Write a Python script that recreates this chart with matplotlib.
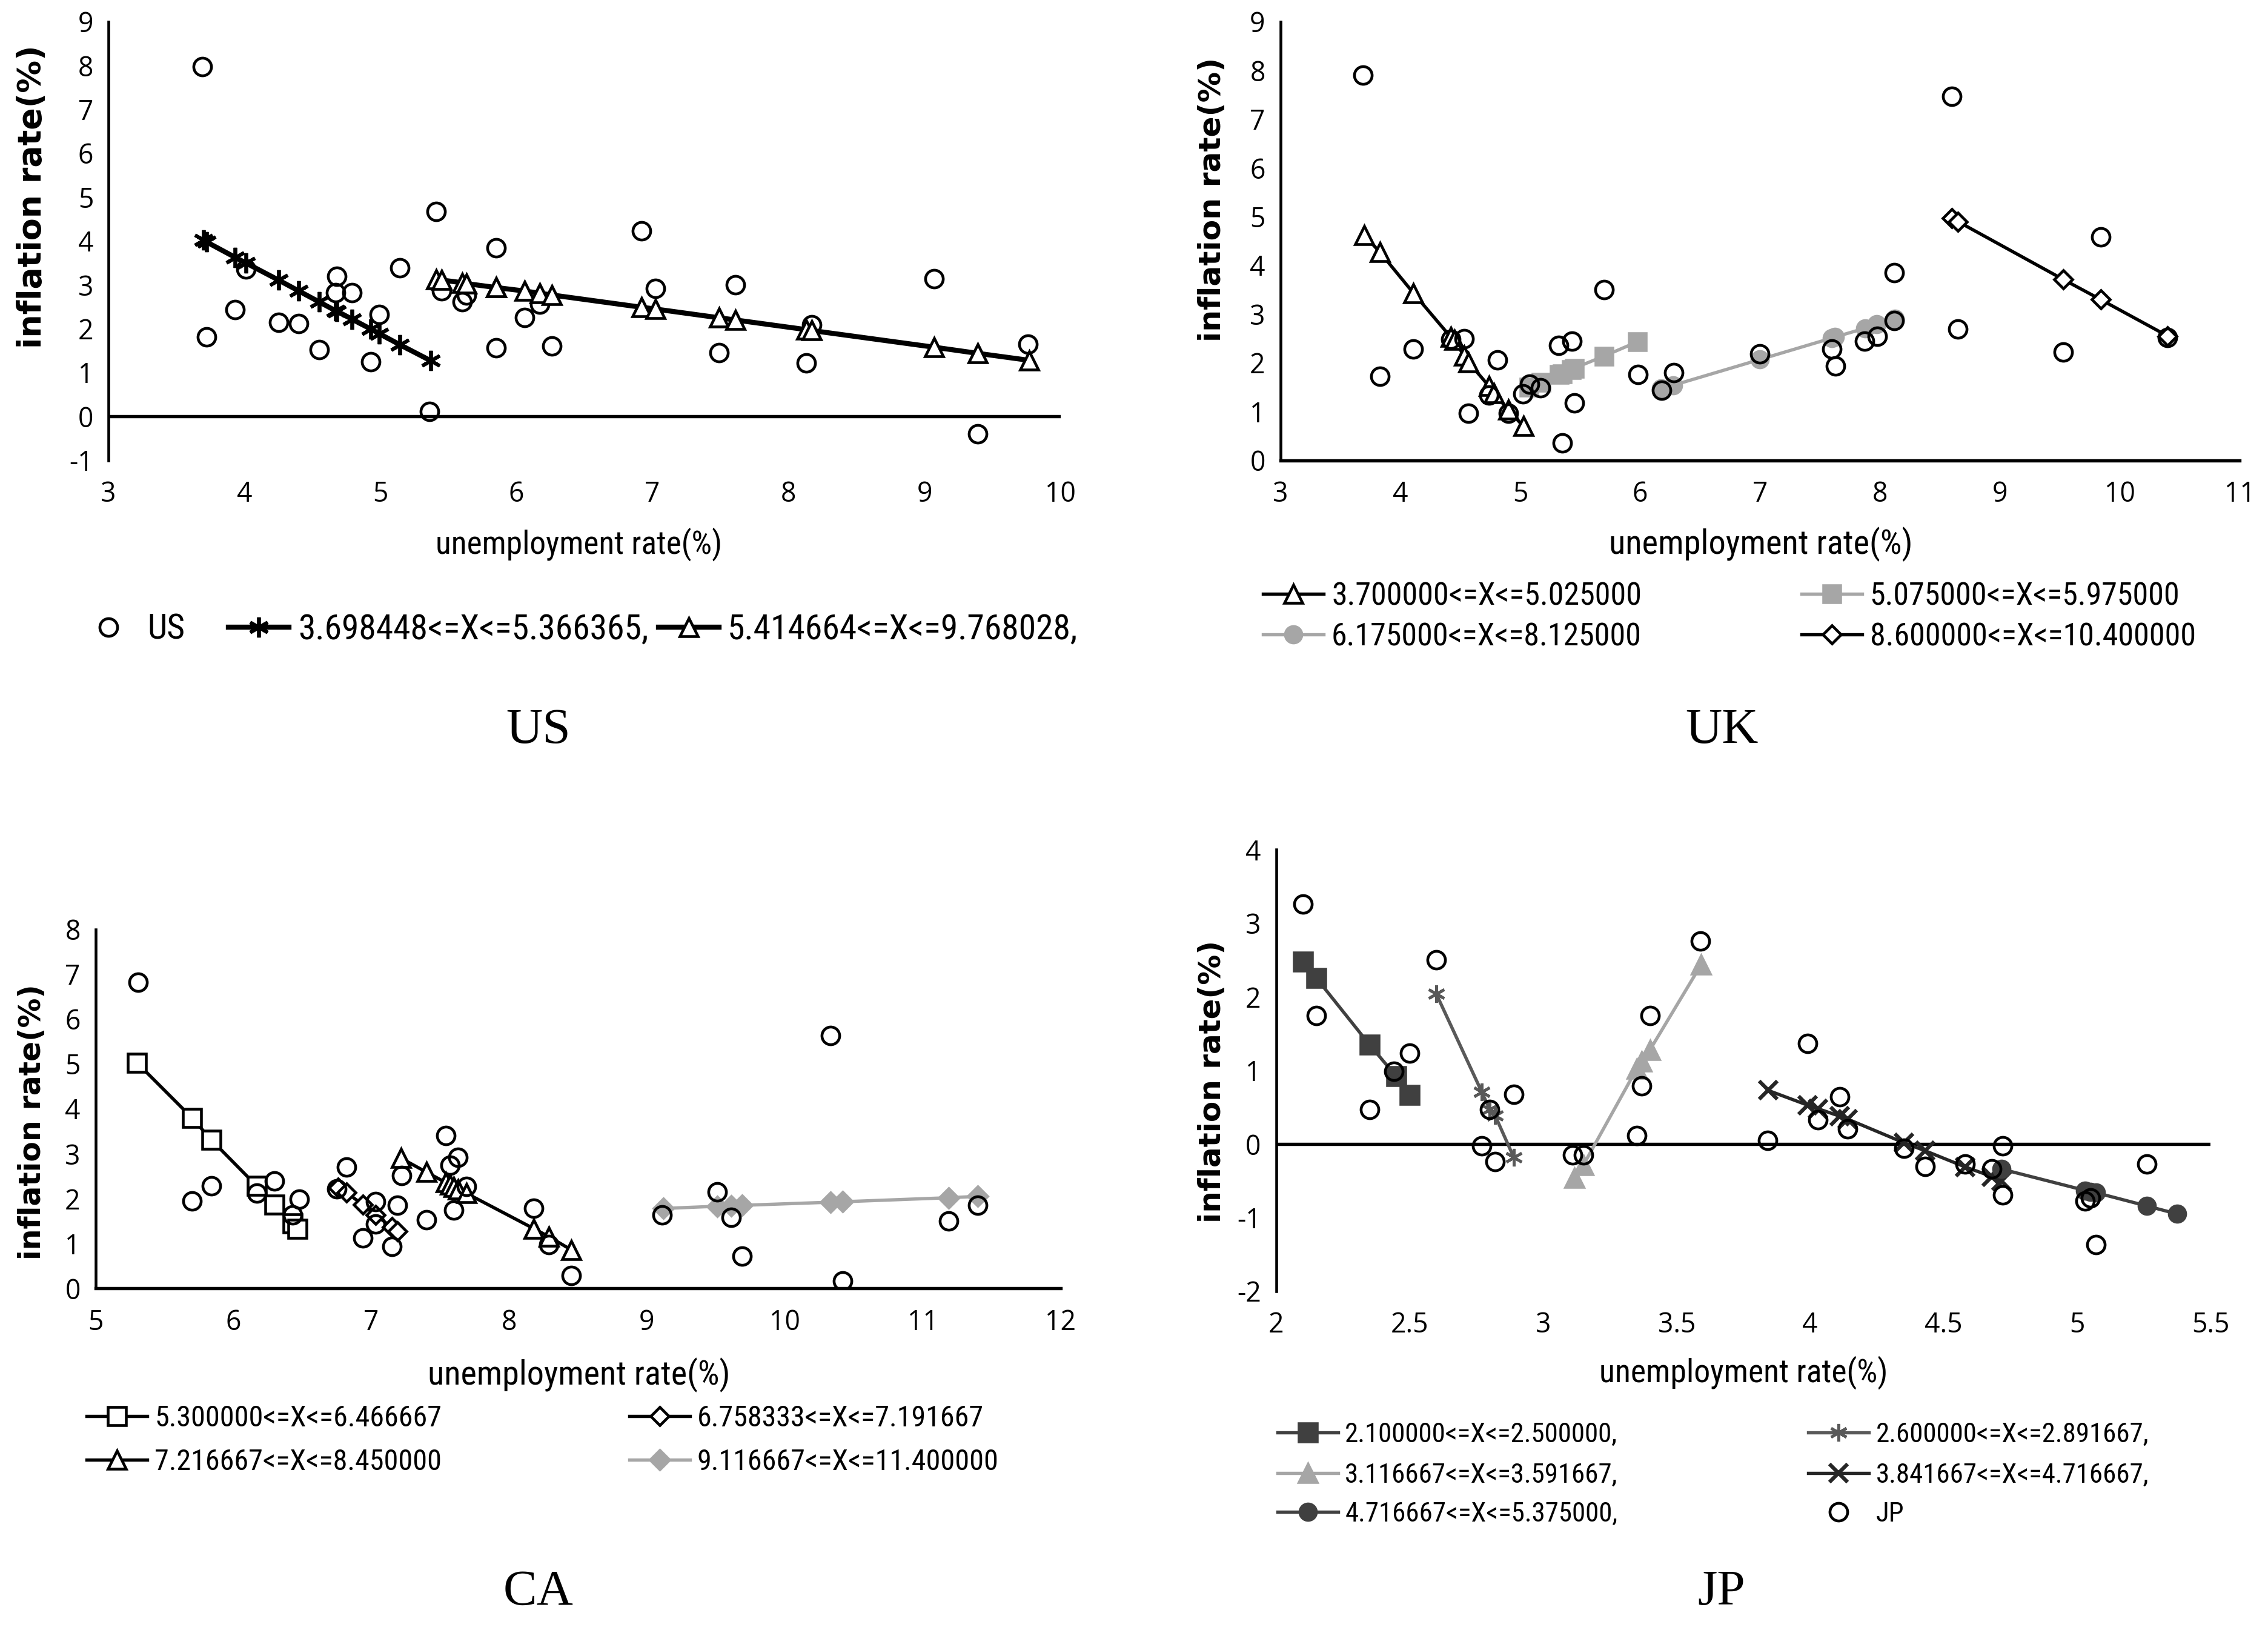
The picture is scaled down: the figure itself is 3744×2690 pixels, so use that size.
import matplotlib
matplotlib.use("Agg")
import matplotlib.pyplot as plt
from matplotlib import font_manager as fm
from matplotlib.textpath import TextPath

# ---- data ----
# US
us_x = [3.69, 3.72, 3.93, 4.01, 4.25, 4.40, 4.55, 4.68, 4.67, 4.79, 4.93, 4.99, 5.14, 5.36, 5.41, 5.45,
        5.60, 5.63, 5.85, 5.85, 6.06, 6.17, 6.26, 6.92, 7.02, 7.49, 7.61, 8.13, 8.17, 9.07, 9.39, 9.76]
us_y = [7.98, 1.82, 2.43, 3.36, 2.14, 2.12, 1.53, 3.19, 2.82, 2.82, 1.25, 2.33, 3.39, 0.12, 4.67, 2.87,
        2.61, 2.77, 3.84, 1.56, 2.26, 2.56, 1.61, 4.23, 2.92, 1.46, 3.00, 1.22, 2.09, 3.14, -0.39, 1.65]
us_l1_x = [3.70, 3.72, 3.93, 4.01, 4.25, 4.40, 4.55, 4.67, 4.68, 4.79, 4.93, 4.99, 5.14, 5.37]
us_l1_y = [4.02, 3.98, 3.63, 3.50, 3.11, 2.86, 2.61, 2.41, 2.40, 2.22, 1.99, 1.89, 1.64, 1.27]
us_l2_x = [5.41, 5.45, 5.60, 5.63, 5.85, 5.85, 6.06, 6.17, 6.26, 6.92, 7.02, 7.49, 7.61, 8.13, 8.17, 9.07, 9.39, 9.77]
us_l2_y = [3.13, 3.11, 3.05, 3.03, 2.94, 2.94, 2.86, 2.81, 2.77, 2.49, 2.45, 2.25, 2.20, 1.98, 1.96, 1.58, 1.44, 1.28]
us_labels = ["US", "3.698448<=X<=5.366365,", "5.414664<=X<=9.768028,"]

# UK
uk_x = [3.69, 3.83, 4.11, 4.42, 4.53, 4.57, 4.74, 4.81, 4.90, 5.02, 5.08, 5.17, 5.32, 5.35, 5.43, 5.45,
        5.70, 5.98, 6.18, 6.28, 7.00, 7.60, 7.63, 7.87, 7.98, 8.12, 8.12, 8.60, 8.65, 9.53, 9.84, 10.40]
uk_y = [7.91, 1.72, 2.28, 2.48, 2.50, 0.96, 1.34, 2.06, 0.97, 1.36, 1.56, 1.49, 2.36, 0.36, 2.45, 1.18,
        3.50, 1.76, 1.44, 1.80, 2.19, 2.28, 1.94, 2.45, 2.55, 2.87, 3.85, 7.47, 2.69, 2.22, 4.58, 2.52]
uk_l1_x = [3.70, 3.83, 4.11, 4.42, 4.45, 4.53, 4.57, 4.74, 4.78, 4.90, 5.025]
uk_l1_y = [4.62, 4.27, 3.43, 2.53, 2.47, 2.15, 2.01, 1.52, 1.38, 1.04, 0.70]
uk_l2_x = [5.075, 5.175, 5.325, 5.35, 5.425, 5.45, 5.70, 5.975]
uk_l2_y = [1.50, 1.60, 1.76, 1.78, 1.86, 1.89, 2.14, 2.43]
uk_l3_x = [6.175, 6.275, 7.00, 7.60, 7.625, 7.875, 7.975, 8.125]
uk_l3_y = [1.47, 1.54, 2.07, 2.51, 2.53, 2.71, 2.79, 2.90]
uk_l4_x = [8.60, 8.65, 9.53, 9.84, 10.40]
uk_l4_y = [4.97, 4.90, 3.71, 3.30, 2.55]
uk_labels = ["3.700000<=X<=5.025000", "5.075000<=X<=5.975000",
             "6.175000<=X<=8.125000", "8.600000<=X<=10.400000"]

# CA
ca_x = [5.31, 5.70, 5.84, 6.17, 6.30, 6.43, 6.48, 6.75, 6.82, 6.94, 7.03, 7.03, 7.15, 7.19, 7.22, 7.40,
        7.54, 7.57, 7.63, 7.60, 7.69, 8.18, 8.29, 8.45, 9.11, 9.51, 9.61, 9.69, 10.33, 10.42, 11.19, 11.40]
ca_y = [6.82, 1.95, 2.29, 2.12, 2.39, 1.63, 1.99, 2.22, 2.71, 1.12, 1.93, 1.44, 0.93, 1.85, 2.51, 1.53,
        3.41, 2.75, 2.92, 1.75, 2.27, 1.78, 0.97, 0.29, 1.63, 2.15, 1.58, 0.72, 5.63, 0.17, 1.50, 1.85]
ca_l1_x = [5.30, 5.70, 5.84, 6.17, 6.30, 6.43, 6.467]
ca_l1_y = [5.03, 3.80, 3.31, 2.28, 1.87, 1.45, 1.33]
ca_l2_x = [6.758, 6.82, 6.94, 7.03, 7.15, 7.19]
ca_l2_y = [2.24, 2.14, 1.86, 1.64, 1.36, 1.27]
ca_l3_x = [7.217, 7.40, 7.54, 7.57, 7.60, 7.63, 7.69, 8.18, 8.29, 8.45]
ca_l3_y = [2.90, 2.59, 2.36, 2.31, 2.26, 2.21, 2.12, 1.33, 1.15, 0.86]
ca_l4_x = [9.117, 9.51, 9.61, 9.69, 10.33, 10.42, 11.19, 11.40]
ca_l4_y = [1.78, 1.83, 1.84, 1.85, 1.92, 1.93, 2.02, 2.05]
ca_labels = ["5.300000<=X<=6.466667", "6.758333<=X<=7.191667",
             "7.216667<=X<=8.450000", "9.116667<=X<=11.400000"]

# JP
jp_x = [2.10, 2.15, 2.35, 2.44, 2.50, 2.60, 2.77, 2.80, 2.82, 2.89, 3.11, 3.15, 3.35, 3.37, 3.40, 3.59,
        3.84, 3.99, 4.03, 4.11, 4.14, 4.35, 4.43, 4.58, 4.68, 4.72, 4.72, 5.03, 5.05, 5.07, 5.26]
jp_y = [3.26, 1.75, 0.47, 0.99, 1.24, 2.50, -0.02, 0.47, -0.24, 0.68, -0.15, -0.15, 0.12, 0.79, 1.75, 2.76,
        0.05, 1.37, 0.33, 0.64, 0.21, -0.06, -0.30, -0.27, -0.34, -0.02, -0.69, -0.77, -0.73, -1.37, -0.27]
jp_l1_x = [2.10, 2.15, 2.35, 2.45, 2.50]
jp_l1_y = [2.48, 2.26, 1.35, 0.92, 0.67]
jp_l2_x = [2.60, 2.77, 2.80, 2.82, 2.89]
jp_l2_y = [2.04, 0.71, 0.47, 0.39, -0.18]
jp_l3_x = [3.117, 3.15, 3.35, 3.37, 3.40, 3.592]
jp_l3_y = [-0.46, -0.29, 1.02, 1.12, 1.28, 2.44]
jp_l4_x = [3.842, 3.99, 4.03, 4.11, 4.14, 4.35, 4.43, 4.58, 4.68, 4.717]
jp_l4_y = [0.73, 0.53, 0.48, 0.38, 0.34, 0.02, -0.09, -0.31, -0.44, -0.50]
jp_l5_x = [4.717, 5.03, 5.05, 5.07, 5.26, 5.375]
jp_l5_y = [-0.34, -0.63, -0.65, -0.66, -0.84, -0.95]
jp_labels = ["2.100000<=X<=2.500000,", "2.600000<=X<=2.891667,", "3.116667<=X<=3.591667,",
             "3.841667<=X<=4.716667,", "4.716667<=X<=5.375000,", "JP"]


# ---- fonts: the reference uses a narrow sans for legend / axis titles ----
def pick_narrow():
    names = {f.name for f in fm.fontManager.ttflist}
    for n in ["Liberation Sans Narrow", "Roboto Condensed", "Open Sans Condensed",
              "Noto Sans Condensed", "DejaVu Sans Condensed"]:
        if n in names:
            return fm.FontProperties(family=n)
    for f in fm.fontManager.ttflist:
        if (f.name in ("Noto Sans", "Open Sans", "Roboto", "DejaVu Sans")
                and f.stretch in ("condensed", "semi-condensed") and f.style == "normal"
                and f.weight in (400, "normal", "regular")):
            return fm.FontProperties(family=f.name, stretch=f.stretch)
    return fm.FontProperties(family="Roboto")


NARROW = pick_narrow()
TICKFONT = fm.FontProperties(family=["Open Sans", "DejaVu Sans"], size=10.7)


def size_for(text, target_px, fp=NARROW):
    # font size (pt) so that `text` is about target_px wide at 300 dpi
    p = fp.copy()
    p.set_size(10)
    w = TextPath((0, 0), text, prop=p).get_extents().width
    return 10 * (target_px * 72 / 300) / w


def fp(size):
    p = NARROW.copy()
    p.set_size(size)
    return p


SERIF = ["Liberation Serif", "DejaVu Serif"]
GRAY = "#a6a6a6"
ASTER = (6, 2, 0)

fig = plt.figure(figsize=(3745 / 300, 2690 / 300), dpi=300)


def frac(px, py):
    # reference is laid out on a 1568 x 1126 grid
    return px / 1568, 1 - py / 1126


def setup_axes(rect, xlim, ylim, xticks, yticks):
    ax = fig.add_axes(rect)
    ax.set_xlim(*xlim)
    ax.set_ylim(*ylim)
    ax.set_xticks(xticks)
    ax.set_yticks(yticks)
    ax.set_xticklabels([f"{t:g}" for t in xticks], fontproperties=TICKFONT)
    ax.set_yticklabels([f"{t:g}" for t in yticks], fontproperties=TICKFONT)
    ax.tick_params(length=0)
    ax.tick_params(axis="x", pad=8)
    ax.tick_params(axis="y", pad=6)
    for s in ["top", "right"]:
        ax.spines[s].set_visible(False)
    ax.spines["left"].set_linewidth(1.1)
    if ylim[0] < 0:
        ax.spines["bottom"].set_visible(False)
        ax.axhline(0, color="black", lw=1.3, zorder=1)
    else:
        ax.spines["bottom"].set_linewidth(1.3)
    return ax


def scatter(ax, x, y, on_top):
    h, = ax.plot(x, y, "o", ls="none", mfc="none", mec="black", ms=7, mew=1.1,
                 zorder=5 if on_top else 2)
    return h


def line(ax, x, y, color, marker, mfc, ms, lw, mew=1.1):
    h, = ax.plot(x, y, color=color, lw=lw, marker=marker, mfc=mfc, mec=color, ms=ms, mew=mew, zorder=3)
    return h


def legend_entry(h, label, px, py, size):
    # handle about 100 px long in the 3745 px wide output
    fig.legend([h], [label], loc="center left", bbox_to_anchor=frac(px, py), frameon=False,
               prop=fp(size), handlelength=24 / size, handletextpad=0.25,
               borderpad=0, borderaxespad=0, numpoints=1)


def labels(xlab_x, xlab_y, xlab_w, ylab_x, ylab_y, ylab_size):
    fig.text(*frac(xlab_x, xlab_y), "unemployment rate(%)", ha="center", va="center",
             fontproperties=fp(size_for("unemployment rate(%)", xlab_w)))
    fig.text(*frac(ylab_x, ylab_y), "inflation rate(%)", ha="center", va="center", rotation=90,
             family="DejaVu Sans", fontweight="bold", fontsize=ylab_size)


def title(text, px, py):
    fig.text(*frac(px, py), text, ha="center", va="center", family=SERIF, fontsize=20)


# ---- US ----
l, b = frac(75, 318)
r, t = frac(733, 15)
ax = setup_axes([l, b, r - l, t - b], (3, 10), (-1, 9), range(3, 11), range(-1, 10))
h0 = scatter(ax, us_x, us_y, on_top=False)
h1 = line(ax, us_l1_x, us_l1_y, "black", ASTER, "black", 8, 2.0, mew=1.4)
h2 = line(ax, us_l2_x, us_l2_y, "black", "^", "white", 7, 2.0)
us_leg = size_for(us_labels[1], 573)
legend_entry(h0, us_labels[0], 54, 435, us_leg)
legend_entry(h1, us_labels[1], 158, 435, us_leg)
legend_entry(h2, us_labels[2], 455, 435, us_leg)
labels(400, 376, 466, 22, 136, 12.9)
title("US", 372, 505)

# ---- UK ----
l, b = frac(885, 318)
r, t = frac(1548, 15)
ax = setup_axes([l, b, r - l, t - b], (3, 11), (0, 9), range(3, 12), range(0, 10))
scatter(ax, uk_x, uk_y, on_top=True)
h1 = line(ax, uk_l1_x, uk_l1_y, "black", "^", "white", 7, 1.3)
h2 = line(ax, uk_l2_x, uk_l2_y, GRAY, "s", GRAY, 6.5, 1.3)
h3 = line(ax, uk_l3_x, uk_l3_y, GRAY, "o", GRAY, 6.5, 1.3)
h4 = line(ax, uk_l4_x, uk_l4_y, "black", "D", "white", 5, 1.3)
uk_leg = size_for(uk_labels[0], 506)
legend_entry(h1, uk_labels[0], 873, 412, uk_leg)
legend_entry(h2, uk_labels[1], 1245, 412, uk_leg)
legend_entry(h3, uk_labels[2], 873, 440, uk_leg)
legend_entry(h4, uk_labels[3], 1245, 440, uk_leg)
labels(1217, 376, 494, 838, 138, 12.1)
title("UK", 1190, 505)

# ---- CA ----
l, b = frac(66, 890)
r, t = frac(733, 642)
ax = setup_axes([l, b, r - l, t - b], (5, 12), (0, 8), range(5, 13), range(0, 9))
scatter(ax, ca_x, ca_y, on_top=True)
h1 = line(ax, ca_l1_x, ca_l1_y, "black", "s", "white", 7, 1.3)
h2 = line(ax, ca_l2_x, ca_l2_y, "black", "D", "white", 5, 1.3)
h3 = line(ax, ca_l3_x, ca_l3_y, "black", "^", "white", 7, 1.3)
h4 = line(ax, ca_l4_x, ca_l4_y, GRAY, "D", GRAY, 5.5, 1.3)
ca_leg = size_for(ca_labels[0], 468)
legend_entry(h1, ca_labels[0], 60, 980, ca_leg)
legend_entry(h2, ca_labels[1], 435, 980, ca_leg)
legend_entry(h3, ca_labels[2], 60, 1010, ca_leg)
legend_entry(h4, ca_labels[3], 435, 1010, ca_leg)
labels(400, 950, 492, 22, 775, 11.7)
title("CA", 372, 1100)

# ---- JP ----
l, b = frac(882, 892)
r, t = frac(1528, 587)
ax = setup_axes([l, b, r - l, t - b], (2, 5.5), (-2, 4), [2, 2.5, 3, 3.5, 4, 4.5, 5, 5.5], range(-2, 5))
h6 = scatter(ax, jp_x, jp_y, on_top=True)
h1 = line(ax, jp_l1_x, jp_l1_y, "#404040", "s", "#404040", 7, 1.3)
h2 = line(ax, jp_l2_x, jp_l2_y, "#595959", ASTER, "#595959", 7, 1.3)
h3 = line(ax, jp_l3_x, jp_l3_y, GRAY, "^", GRAY, 7, 1.3)
h4 = line(ax, jp_l4_x, jp_l4_y, "#262626", "x", "#262626", 7, 1.3, mew=1.5)
h5 = line(ax, jp_l5_x, jp_l5_y, "#404040", "o", "#404040", 6.5, 1.3)
jp_leg = size_for(jp_labels[0], 447)
for i, h in enumerate([h1, h2, h3, h4, h5, h6]):
    px = 883 if i % 2 == 0 else 1250
    py = [991, 1019, 1046][i // 2]
    legend_entry(h, jp_labels[i], px, py, jp_leg)
labels(1205, 948, 470, 838, 747, 12.0)
title("JP", 1190, 1100)

fig.savefig("out.png", dpi=300)
